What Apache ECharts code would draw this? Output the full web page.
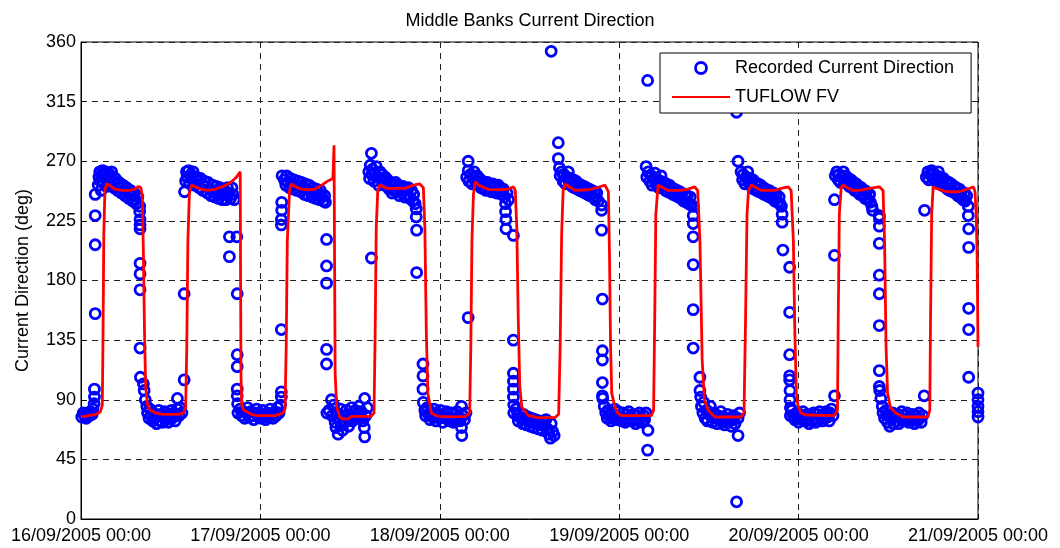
<!DOCTYPE html>
<html>
<head>
<meta charset="utf-8">
<title>Middle Banks Current Direction</title>
<script src="https://cdn.jsdelivr.net/npm/echarts@6/dist/echarts.min.js"></script>
<style>
  html, body { margin: 0; padding: 0; background: #fff; }
  #chart { width: 1060px; height: 548px; }
</style>
</head>
<body>
<div id="chart"></div>
<script>
// x values are hours since 16/09/2005 00:00
const xTickLabels = ['16/09/2005 00:00', '17/09/2005 00:00', '18/09/2005 00:00',
    '19/09/2005 00:00', '20/09/2005 00:00', '21/09/2005 00:00'];

// recorded current direction (deg), [hour, value]
const recordedDay1 = [
    [0.1,77],[0.3,80],[0.5,78],[0.7,76],[0.9,80],[1.1,78],[1.3,81],[1.5,79],[1.6,83],[1.75,87],[1.8,92],[1.8,98],
    [1.9,155],[1.9,207],[1.9,229],[1.9,245],
    [2.3,252],[2.4,258],[2.5,262],[2.6,255],[2.7,248],[2.8,260],[2.9,263],[3.0,254],[3.1,258],[3.3,262],[3.4,251],
    [3.5,257],[3.7,261],[3.8,253],[4.0,259],[4.1,262],[4.3,255],[4.4,250],[4.6,257],[4.8,252],[4.9,248],[5.1,254],
    [5.3,250],[5.4,246],[5.6,252],[5.8,248],[5.9,244],[6.1,250],[6.3,246],[6.4,242],[6.6,248],[6.8,244],[6.9,240],
    [7.1,246],[7.3,241],[7.4,238],[7.6,243],
    [7.85,236],[7.85,232],[7.9,226],[7.9,222],[7.9,219],[7.9,193],[7.9,185],[7.9,173],[7.9,129],[7.95,107],
    [8.35,102],[8.45,97],[8.6,90],[8.8,85],
    [8.9,80],[9.1,76],[9.2,83],[9.4,78],[9.6,74],[9.7,80],[9.9,76],[10.1,72],[10.2,78],[10.4,82],[10.6,74],[10.7,79],
    [10.9,73],[11.1,77],[11.2,81],[11.4,75],[11.6,79],[11.7,73],[11.9,77],[12.1,82],[12.2,76],[12.4,80],[12.6,74],
    [12.7,79],[12.9,91],[12.9,83],[13.1,78],[13.3,84],[13.5,80],
    [13.8,105],[13.8,170],[13.85,247],
    [14.0,255],[14.1,262],[14.2,258],[14.4,263],[14.5,254],[14.7,260],[14.9,256],[15.0,262],[15.2,252],[15.4,258],
    [15.6,255],[15.8,250],[16.0,257],[16.2,253],[16.3,248],[16.5,255],[16.7,251],[16.9,246],[17.0,254],[17.2,249],
    [17.4,244],[17.6,252],[17.7,247],[17.9,243],[18.1,251],[18.2,246],[18.4,242],[18.6,250],[18.8,245],[18.9,241],
    [19.1,249],[19.3,245],[19.4,241],[19.6,250],[19.8,246],[20.0,242],[20.2,250],[20.3,245],[20.5,241],
    [19.85,213],[19.85,198],[20.85,213],[20.9,170],[20.9,124],[20.9,115],[20.9,98],[20.9,93],[20.95,87],[21.0,80],
    [21.3,83],[21.5,78],[21.7,81],[21.9,76],[22.1,80],[22.3,84],[22.5,77],[22.7,81],[22.9,78],[23.1,75],[23.3,80],
    [23.5,83],[23.7,77]
];
const recordedDay2 = [
    [23.9,80],[24.1,76],[24.3,82],[24.5,78],[24.7,75],[24.9,80],[25.1,77],[25.3,83],[25.5,79],[25.7,76],[25.9,81],
    [26.1,78],[26.3,84],[26.5,80],[26.7,86],[26.8,92],[26.8,96],
    [26.8,143],[26.8,222],[26.8,226],[26.85,233],[26.85,239],[26.9,259],
    [27.2,256],[27.4,252],[27.5,259],[27.7,254],[27.9,250],[28.0,257],[28.2,253],[28.4,249],[28.5,256],[28.7,252],
    [28.9,248],[29.0,255],[29.2,251],[29.4,247],[29.5,254],[29.7,250],[29.9,245],[30.0,253],[30.2,249],[30.4,244],
    [30.5,252],[30.7,247],[30.9,243],[31.0,250],[31.2,246],[31.4,242],[31.5,249],[31.7,245],[31.9,241],[32.0,248],
    [32.2,244],[32.4,240],[32.6,244],[32.7,239],
    [32.85,211],[32.85,191],[32.85,178],[32.85,128],[32.85,117],[32.9,80],
    [33.2,82],[33.5,90],[33.6,78],[33.8,86],[34.0,73],[34.1,69],[34.2,80],[34.4,64],[34.5,76],[34.7,83],[34.8,71],
    [35.0,67],[35.2,78],[35.3,73],[35.5,82],[35.7,75],[35.8,70],[36.0,79],[36.2,84],[36.3,74],[36.5,78],[36.7,82],
    [36.8,76],[37.0,80],[37.2,85],[37.3,77],[37.5,81],[37.7,74],[37.9,69],[37.95,62],[37.95,91],[38.1,78],[38.3,84],
    [38.85,197],[38.85,276],
    [38.5,262],[38.6,257],[38.7,267],[38.9,260],[39.0,264],[39.2,255],[39.3,261],[39.5,266],[39.7,258],[39.8,252],
    [40.0,262],[40.2,256],[40.3,260],[40.5,253],[40.7,258],[40.9,251],[41.0,256],[41.2,249],[41.4,254],[41.6,246],
    [41.8,252],[41.9,248],[42.1,254],[42.3,247],[42.5,252],[42.6,244],[42.8,250],[43.0,246],[43.1,251],[43.3,243],
    [43.5,249],[43.7,245],[43.8,250],[44.0,242],[44.2,248],[44.4,240],[44.5,245],[44.7,238],
    [44.85,234],[44.85,228],[44.9,218],[44.9,186],[45.75,117],[45.75,108],[45.75,98],
    [45.8,88],[46.0,82],[46.1,78],[46.3,84],[46.5,79],[46.7,75],[46.8,81],[47.0,77],[47.2,83],[47.4,78],[47.5,74],
    [47.7,80],[47.9,76]
];
const recordedDay3 = [
    [48.1,82],[48.2,77],[48.4,73],[48.6,79],[48.8,76],[48.9,81],[49.1,77],[49.3,74],[49.5,80],[49.6,76],[49.8,73],
    [50.0,79],[50.2,75],[50.3,81],[50.5,77],[50.7,74],[50.9,85],[50.9,69],[50.95,63],[51.1,78],[51.3,75],[51.5,80],
    [51.8,152],[51.8,270],
    [51.6,258],[51.8,263],[51.9,255],[52.1,260],[52.3,253],[52.5,258],[52.6,262],[52.8,254],[53.0,259],[53.2,252],
    [53.3,257],[53.5,250],[53.7,255],[53.9,249],[54.0,253],[54.2,248],[54.4,254],[54.6,249],[54.7,252],[54.9,247],
    [55.1,253],[55.3,248],[55.4,251],[55.6,246],[55.8,252],[56.0,247],[56.1,250],[56.3,245],[56.5,249],[56.7,243],
    [56.8,238],[56.8,232],[56.85,226],[56.85,219],[57.0,246],[57.2,241],
    [57.85,214],[57.85,135],[57.85,110],[57.85,104],[57.85,98],[57.85,92],[57.9,86],[57.9,80],
    [58.2,83],[58.4,78],[58.5,74],[58.7,80],[58.9,76],[59.1,72],[59.2,79],[59.4,75],[59.6,71],[59.8,77],[59.9,74],
    [60.1,70],[60.3,76],[60.5,73],[60.6,69],[60.8,75],[61.0,72],[61.2,68],[61.3,74],[61.5,71],[61.7,67],[61.9,73],
    [62.0,70],[62.2,75],[62.4,68],[62.6,64],[62.8,61],[62.9,72],[63.1,66],[63.3,63],
    [62.9,353],
    [63.85,284],[63.85,272],
    [64.0,265],[64.1,259],[64.3,262],[64.5,255],[64.6,260],[64.8,253],[65.0,258],[65.2,262],[65.3,254],[65.5,257],
    [65.7,251],[65.9,256],[66.0,250],[66.2,255],[66.4,249],[66.6,253],[66.7,248],[66.9,252],[67.1,247],[67.3,251],
    [67.4,246],[67.6,250],[67.8,245],[68.0,249],[68.1,244],[68.3,248],[68.5,243],[68.7,247],[68.8,241],[69.0,246],
    [69.2,240],
    [69.65,237],[69.65,233],[69.65,218],[69.75,166],[69.75,127],[69.75,120],[69.75,103],[69.75,93],[69.8,91],
    [70.0,85],[70.2,80],[70.4,76],[70.5,82],[70.7,78],[70.9,74],[71.1,80],[71.2,76],[71.4,83],[71.6,78],[71.8,75],
    [71.9,81]
];
const recordedDay4 = [
    [72.1,77],[72.3,74],[72.5,80],[72.6,76],[72.8,73],[73.0,79],[73.2,75],[73.3,81],[73.5,77],[73.7,74],[73.9,79],
    [74.0,75],[74.2,72],[74.4,78],[74.6,74],[74.7,80],[74.9,76],[75.1,73],[75.3,78],[75.4,75],[75.6,80],[75.85,67],
    [75.8,52],[75.8,331],
    [75.6,266],[75.7,258],
    [75.9,262],[76.1,255],[76.3,259],[76.4,252],[76.6,257],[76.8,261],[76.9,253],[77.1,256],[77.3,250],[77.5,255],
    [77.6,259],[77.8,251],[78.0,254],[78.2,248],[78.3,253],[78.5,247],[78.7,252],[78.9,246],[79.0,250],[79.2,245],
    [79.4,249],[79.6,244],[79.7,248],[79.9,243],[80.1,247],[80.3,242],[80.4,246],[80.6,240],[80.8,245],[81.0,239],
    [81.1,244],[81.3,238],[81.5,243],[81.6,237],
    [81.9,236],[81.9,229],[81.9,223],[81.9,213],[81.9,192],[81.9,158],[81.9,129],[82.8,107],[82.8,97],
    [82.9,92],[83.0,85],[83.2,80],[83.3,88],[83.5,76],[83.7,82],[83.8,74],[84.0,79],[84.2,85],[84.4,77],[84.5,73],
    [84.7,80],[84.9,76],[85.1,72],[85.2,78],[85.4,75],[85.6,81],[85.8,73],[85.9,77],[86.1,71],[86.3,76],[86.5,79],
    [86.6,73],[86.8,76],[87.0,70],[87.2,75],[87.3,78],[87.5,72],[87.7,13],[87.7,307],[87.9,63],[87.9,76],[88.1,80],
    [87.9,270],
    [88.3,262],[88.5,256],[88.6,260],[88.8,253],[89.0,258],[89.2,262],[89.3,254],[89.5,257],[89.7,251],[89.9,256],
    [90.0,249],[90.2,254],[90.4,248],[90.6,253],[90.7,247],[90.9,252],[91.1,246],[91.3,250],[91.4,245],[91.6,249],
    [91.8,244],[92.0,248],[92.1,243],[92.3,247],[92.5,242],[92.7,246],[92.8,240],[93.0,245],[93.2,239],[93.4,243],
    [93.5,238],[93.7,236],[93.8,230],[93.8,224],[93.9,203],
    [94.8,190],[94.8,156],[94.8,124],[94.8,108],[94.8,105],[94.85,97],[94.85,90],[94.9,84],[94.9,78],
    [95.1,82],[95.3,78],[95.5,75]
];
const recordedDay5 = [
    [95.7,80],[95.9,76],[96.0,73],[96.2,79],[96.4,75],[96.6,81],[96.7,77],[96.9,74],[97.1,79],[97.3,75],[97.4,72],
    [97.6,78],[97.8,74],[98.0,80],[98.1,76],[98.3,73],[98.5,79],[98.7,75],[98.8,81],[99.0,77],[99.2,74],[99.4,79],
    [99.5,76],[99.7,81],[99.9,77],[100.1,74],[100.2,80],[100.4,83],[100.6,78],[100.8,93],
    [100.8,199],[100.8,241],
    [100.9,259],[101.1,262],[101.3,256],[101.4,260],[101.6,254],[101.8,258],[102.0,262],[102.1,255],[102.3,259],
    [102.5,253],[102.7,257],[102.8,251],[103.0,256],[103.2,250],[103.4,254],[103.5,248],[103.7,253],[103.9,247],
    [104.1,251],[104.2,245],[104.4,250],[104.6,244],[104.8,248],[104.9,242],[105.1,247],[105.3,241],[105.5,245],
    [105.6,239],[105.8,236],[105.9,233],
    [106.8,229],[106.8,227],[106.8,221],[106.8,208],[106.8,184],[106.8,170],[106.8,146],[106.8,112],[106.8,100],[106.85,97],
    [107.0,91],[107.2,85],[107.3,80],[107.5,76],[107.7,82],[107.9,73],[108.0,78],[108.2,70],[108.4,75],[108.6,80],
    [108.7,72],[108.9,77],[109.1,74],[109.3,79],[109.4,72],[109.6,76],[109.8,81],[110.0,74],[110.1,78],[110.3,75],
    [110.5,80],[110.7,73],[110.8,77],[111.0,74],[111.2,79],[111.4,75],[111.5,72],[111.7,78],[111.9,74],[112.1,80],
    [112.2,76],[112.4,73],[112.6,78],[112.8,93],
    [112.85,233],
    [113.1,258],[113.3,262],[113.4,256],[113.6,260],[113.8,263],[114.0,257],[114.1,261],[114.3,255],[114.5,259],
    [114.7,262],[114.8,254],[115.0,258],[115.2,252],[115.4,257],[115.5,251],[115.7,255],[115.9,249],[116.1,254],
    [116.2,248],[116.4,253],[116.6,247],[116.8,251],[116.9,246],[117.1,250],[117.3,244],[117.5,249],[117.6,243],
    [117.8,247],[118.0,241],[118.2,246],[118.3,240],[118.5,244],
    [118.7,236],[118.7,229],[118.75,219],[118.75,205],[118.75,159],[118.75,143],[118.75,107],
    [120,95],[120,90],[120,85],[120,81],[120,77]
];

// TUFLOW FV model (deg), [hour, value]
const tuflowDay1 = [
    [0,77],[1,78],[2,79],[2.6,81],[2.85,86],[2.95,140],[3.05,215],[3.2,248],[3.4,253],[3.8,252],[4.5,249],[5.5,248],
    [6.5,248],[7.2,249],[7.7,251],[8.0,250],[8.2,244],[8.35,200],[8.5,140],[8.65,100],[8.9,86],[9.3,82],[10,80],
    [11,79],[12,79],[13,79],[13.7,80],[14.0,84],[14.15,130],[14.3,210],[14.5,246],[14.8,252],[15.2,251],[16,249],
    [17,248],[18,249],[19,251],[20,254],[20.8,258],[21.3,262],[21.35,180],[21.4,110],[21.5,86],[21.8,82],[22.8,79],
    [23.5,78]
];
const tuflowDay2 = [
    [24.5,78],[26,78],[27,80],[27.3,83],[27.45,130],[27.6,210],[27.9,248],[28.14,253],[28.6,251],[29.5,249],
    [30.4,248.5],[31.3,249],[32.2,252],[33.0,255],[33.7,257],[33.85,282],[33.92,200],[34.0,110],[34.2,85],[34.6,77],
    [35,75.5],[35.7,75.5],[36.2,77.5],[38.8,77.5],[39.2,80],[39.35,140],[39.5,220],[39.7,248],[39.96,252],[41,249.5],
    [43.3,249.5],[44.5,252],[45.3,253],[45.8,250],[46.0,220],[46.2,140],[46.4,95],[46.87,80],[47.5,78]
];
const tuflowDay3 = [
    [48,77.5],[50,77],[51.5,77.5],[52.0,80],[52.15,130],[52.3,210],[52.5,245],[52.72,254.5],[53.2,252],[54.5,248.7],
    [56,248.5],[57.2,249],[57.84,250.7],[58.1,248],[58.3,220],[58.5,150],[58.7,100],[58.96,84.6],[59.85,78],
    [61.2,76.5],[63.4,76.5],[63.9,79],[64.1,130],[64.3,215],[64.5,248],[64.76,253],[65.5,250],[66.1,248],[67.9,248.5],
    [69,250],[70.1,252],[70.3,252],[70.55,247],[70.7,200],[70.85,130],[71.0,95],[71.4,85],[71.8,80]
];
const tuflowDay4 = [
    [72.3,78],[74,78],[76.3,78],[76.6,82],[76.75,150],[76.9,230],[77.2,252],[77.6,251],[78.5,248],[80.3,248],
    [81.2,249],[82.1,250.7],[82.5,248],[82.8,210],[83.1,120],[83.4,90],[83.9,82],[84.8,77],[88.3,77],[88.7,80],
    [88.9,150],[89.1,230],[89.3,248],[89.68,252],[91,248],[92.8,248],[93.7,249.5],[94.6,250.7],[95.0,248],[95.3,210],
    [95.5,140],[95.7,95],[95.9,86]
];
const tuflowDay5 = [
    [96.3,80],[97,78.5],[100.8,78],[101.2,82],[101.3,150],[101.45,230],[101.7,250],[101.9,252],[103.2,248],[104.1,248],
    [105.5,249.5],[106.8,250.7],[107.3,248],[107.5,210],[107.7,130],[107.9,95],[108.3,84],[109,80],[110,77],[113.3,77],
    [113.55,82],[113.65,150],[113.8,230],[114.0,250.7],[114.4,249.5],[115.8,247],[117.5,247],[118.9,249.5],
    [119.4,250.7],[119.6,247],[119.75,230],[119.88,200],[120,130]
];

const recorded = recordedDay1.concat(recordedDay2, recordedDay3, recordedDay4, recordedDay5);
const tuflow = tuflowDay1.concat(tuflowDay2, tuflowDay3, tuflowDay4, tuflowDay5);

const font = "'Liberation Sans', Arial, Helvetica, sans-serif";
const gridLine = { color: '#222', width: 1, type: [6, 5] };

const chart = echarts.init(document.getElementById('chart'), null, { renderer: 'canvas' });

chart.setOption({
    animation: false,
    backgroundColor: '#fff',
    textStyle: { fontFamily: font, color: '#000' },
    title: {
        text: 'Middle Banks Current Direction',
        left: 'center',
        top: 7,
        textStyle: { fontFamily: font, fontSize: 18, fontWeight: 'normal', color: '#000' }
    },
    legend: {
        orient: 'vertical',
        left: 660,
        top: 53,
        padding: [5, 17, 6, 11],
        itemWidth: 58,
        itemHeight: 11,
        itemGap: 9,
        backgroundColor: '#fff',
        borderColor: '#000',
        borderWidth: 1,
        borderRadius: 0,
        textStyle: { fontFamily: font, fontSize: 18, color: '#000', lineHeight: 20 },
        data: [
            { name: 'Recorded Current Direction', itemStyle: { borderWidth: 2.8 } },
            { name: 'TUFLOW FV', itemStyle: { opacity: 0 } }
        ]
    },
    grid: {
        left: 81,
        right: 82,
        top: 42,
        bottom: 29,
        show: true,
        borderColor: '#000',
        borderWidth: 1,
        containLabel: false
    },
    xAxis: {
        type: 'value',
        min: 0,
        max: 120,
        interval: 24,
        axisLine: { lineStyle: { color: '#000' } },
        axisTick: { inside: true, length: 5, lineStyle: { color: '#000' } },
        axisLabel: {
            fontFamily: font, fontSize: 18, color: '#000', margin: 8,
            formatter: v => xTickLabels[Math.round(v / 24)]
        },
        splitLine: { show: true, lineStyle: gridLine }
    },
    yAxis: {
        type: 'value',
        min: 0,
        max: 360,
        interval: 45,
        name: 'Current Direction (deg)',
        nameLocation: 'middle',
        nameGap: 49,
        nameTextStyle: { fontFamily: font, fontSize: 18, color: '#000' },
        axisLine: { show: true, lineStyle: { color: '#000' } },
        axisTick: { show: true, inside: true, length: 5, lineStyle: { color: '#000' } },
        axisLabel: { fontFamily: font, fontSize: 18, color: '#000', margin: 5 },
        splitLine: { show: true, lineStyle: gridLine }
    },
    series: [
        {
            name: 'Recorded Current Direction',
            type: 'scatter',
            symbol: 'circle',
            symbolSize: 10,
            itemStyle: { color: 'rgba(0,0,255,0)', borderColor: '#0000ff', borderWidth: 2.8, opacity: 1 },
            data: recorded,
            z: 2
        },
        {
            name: 'TUFLOW FV',
            type: 'line',
            showSymbol: false,
            symbol: 'none',
            lineStyle: { color: '#ff0000', width: 2.8 },
            itemStyle: { color: '#ff0000' },
            data: tuflow,
            z: 3
        }
    ]
});
</script>
</body>
</html>
